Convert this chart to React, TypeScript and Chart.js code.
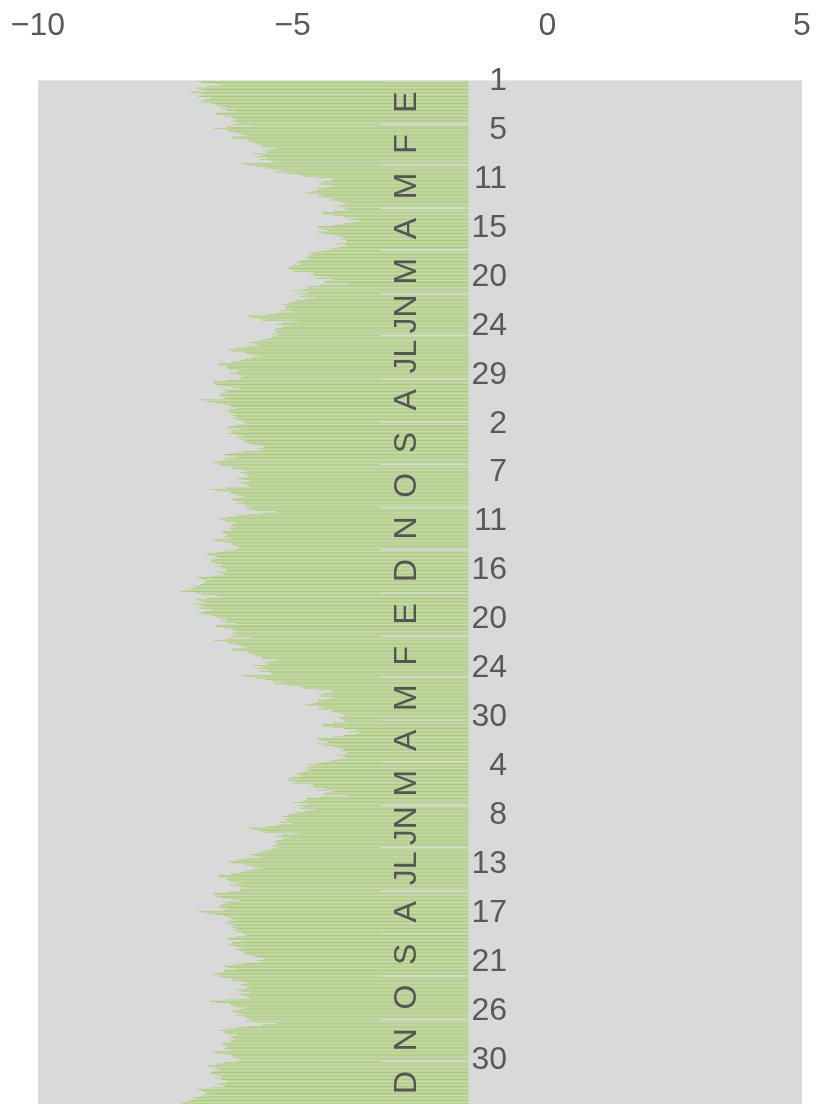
import React, { useEffect, useRef } from 'react';
import { Chart, registerables } from 'chart.js';

Chart.register(...registerables);

// Month initials (Spanish) and month lengths of the 366-day series
const MONTH_LETTERS = ['E', 'F', 'M', 'A', 'M', 'JN', 'JL', 'A', 'S', 'O', 'N', 'D'];
const MONTH_DAYS = [31, 29, 31, 30, 31, 30, 31, 31, 30, 31, 30, 31];
const YEARS = 2;
const X_TICKS = [-10, -5, 0, 5];

// Daily values, one array per month
const ENE = [-6.9, -6.8, -6.5, -6.4, -6.7, -6.9, -6.8, -6.7, -7.0, -6.8, -6.75, -6.85, -6.6, -6.7, -6.8, -6.8, -6.6, -6.5, -6.45, -6.3, -6.4, -6.3, -6.1, -6.5, -6.5, -6.35, -6.2, -6.1, -6.15, -6.2, -6.1];
const FEB = [-6.2, -5.8, -6.3, -6.55, -6.3, -6.25, -6.1, -6.0, -5.9, -6.2, -6.2, -5.9, -5.85, -5.75, -5.7, -5.6, -5.6, -5.3, -5.45, -5.55, -5.5, -5.8, -5.6, -5.7, -5.5, -5.65, -5.45, -5.4, -6.0];
const MAR = [-5.9, -5.7, -5.55, -5.4, -5.2, -5.35, -5.1, -4.85, -4.8, -4.5, -4.2, -4.25, -4.4, -4.45, -4.45, -4.2, -4.35, -4.5, -4.5, -4.6, -4.75, -4.5, -4.4, -4.5, -4.2, -4.25, -4.1, -3.97, -4.0, -4.1, -4.05];
const ABR = [-4.0, -3.95, -4.2, -4.43, -4.4, -4.2, -4.0, -3.75, -3.9, -3.68, -3.8, -4.0, -4.2, -4.5, -4.5, -4.4, -4.3, -4.52, -4.4, -4.2, -4.1, -4.0, -4.05, -3.94, -3.95, -4.14, -4.0, -3.94, -4.1, -4.25];
const MAY = [-4.35, -4.5, -4.68, -4.6, -4.7, -4.72, -4.66, -4.8, -4.89, -4.92, -4.85, -5.0, -5.08, -5.08, -4.95, -4.99, -4.6, -4.65, -4.59, -4.35, -4.53, -4.2, -4.35, -4.4, -3.95, -4.46, -4.72, -4.72, -4.8, -4.99, -4.7];
const JUN = [-4.9, -4.8, -4.86, -4.55, -4.75, -4.92, -4.99, -5.1, -5.2, -5.1, -5.15, -5.12, -5.25, -5.0, -5.28, -5.5, -5.87, -5.8, -5.64, -5.6, -4.9, -5.2, -5.3, -5.05, -5.2, -5.32, -5.35, -5.32, -5.28, -5.4];
const JUL = [-5.3, -5.4, -5.51, -5.6, -5.7, -5.84, -5.75, -5.64, -5.9, -6.1, -6.26, -6.2, -5.95, -5.9, -5.75, -5.6, -5.8, -5.95, -6.05, -6.2, -6.45, -6.45, -6.29, -6.3, -6.25, -6.03, -6.1, -6.23, -6.05, -5.97, -6.03];
const AGO = [-6.05, -6.3, -6.56, -6.56, -6.5, -6.39, -6.2, -6.05, -6.36, -6.3, -6.39, -6.45, -6.42, -6.3, -6.36, -6.85, -6.7, -6.52, -6.35, -6.25, -6.2, -6.1, -6.25, -6.3, -6.22, -6.15, -6.2, -6.1, -6.2, -6.1, -6.0];
const SEP = [-5.95, -5.9, -6.1, -6.25, -6.29, -6.0, -6.2, -6.2, -6.26, -6.1, -6.0, -6.1, -6.03, -5.95, -5.97, -5.87, -5.75, -5.6, -5.55, -5.7, -5.6, -5.97, -6.15, -6.35, -6.26, -6.1, -6.33, -6.35, -6.45, -6.56];
const OCT = [-6.45, -6.4, -6.2, -6.18, -6.0, -5.9, -6.03, -5.95, -5.85, -5.9, -6.1, -6.0, -5.85, -6.05, -5.95, -5.9, -5.84, -6.3, -6.62, -6.5, -6.23, -6.2, -6.1, -5.95, -6.05, -6.19, -6.15, -6.0, -6.1, -5.95, -5.9];
const NOV = [-5.8, -5.9, -5.75, -5.32, -5.6, -5.9, -6.1, -6.3, -6.45, -6.35, -6.29, -6.1, -6.2, -6.22, -6.15, -6.23, -6.19, -6.36, -6.39, -6.3, -6.29, -6.35, -6.2, -6.56, -6.5, -6.3, -6.19, -6.16, -6.06, -6.05];
const DIC = [-6.1, -6.35, -6.5, -6.69, -6.65, -6.5, -6.45, -6.55, -6.59, -6.62, -6.5, -6.4, -6.52, -6.4, -6.29, -6.3, -6.49, -6.4, -6.35, -6.6, -6.88, -6.8, -6.7, -6.7, -6.75, -6.8, -6.95, -6.9, -7.0, -7.1, -7.18];

const MONTHS = [ENE, FEB, MAR, ABR, MAY, JUN, JUL, AGO, SEP, OCT, NOV, DIC];

// Style constants (in data units of the value axis)
const BAR_BASE = -1.55;
const SEPARATOR_FROM = -3.28;
const LETTER_X = -2.76;
const DAY_LABEL_X = -0.79;
const DAY_TICK_STEP = 35;

const FONT_FAMILY = '"Liberation Sans", Arial, sans-serif';
const TEXT_COLOR = '#595959';
const PLOT_BG = '#d9d9d9';

const yearValues: number[] = MONTHS.flat();
const seriesValues: number[] = Array.from({ length: YEARS }, () => yearValues).flat();
const dayLabels: string[] = Array.from({ length: YEARS }, () =>
  MONTH_DAYS.flatMap((n) => Array.from({ length: n }, (_, d) => String(d + 1)))
).flat();

const plotBackground = {
  id: 'plotBackground',
  beforeDraw(chart: any) {
    const { ctx, chartArea: a } = chart;
    ctx.save();
    ctx.fillStyle = PLOT_BG;
    ctx.fillRect(a.left, a.top, a.right - a.left, a.bottom - a.top);
    ctx.restore();
  },
};

const monthBand = {
  id: 'monthBand',
  afterDatasetsDraw(chart: any) {
    const { ctx } = chart;
    const xs = chart.scales.x;
    const ys = chart.scales.y;
    const x0 = xs.getPixelForValue(SEPARATOR_FROM);
    const x1 = xs.getPixelForValue(BAR_BASE);
    const lx = xs.getPixelForValue(LETTER_X);
    ctx.save();
    let start = 0;
    for (let yr = 0; yr < YEARS; yr++) {
      for (let m = 0; m < MONTH_DAYS.length; m++) {
        const n = MONTH_DAYS[m];
        const yFirst = ys.getPixelForValue(start);
        ctx.strokeStyle = PLOT_BG;
        ctx.lineWidth = 1.4;
        ctx.beginPath();
        ctx.moveTo(x0, yFirst);
        ctx.lineTo(x1, yFirst);
        ctx.stroke();
        const yMid = (ys.getPixelForValue(start) + ys.getPixelForValue(start + n - 1)) / 2;
        ctx.save();
        ctx.translate(lx, yMid);
        ctx.rotate(-Math.PI / 2);
        ctx.fillStyle = '#555555';
        ctx.font = `32px ${FONT_FAMILY}`;
        ctx.textAlign = 'center';
        ctx.textBaseline = 'middle';
        ctx.fillText(MONTH_LETTERS[m], 0, 0);
        ctx.restore();
        start += n;
      }
    }
    ctx.restore();
  },
};

export default function App() {
  const canvasRef = useRef<HTMLCanvasElement | null>(null);

  useEffect(() => {
    const canvas = canvasRef.current;
    if (!canvas) return;
    const chart = new Chart(canvas, {
      type: 'bar',
      data: {
        labels: dayLabels,
        datasets: [
          {
            data: seriesValues.map((v) => [v, BAR_BASE]) as any,
            backgroundColor: '#a6cf6c',
            borderWidth: 0,
            barPercentage: 0.6,
            categoryPercentage: 1,
          },
        ],
      },
      options: {
        indexAxis: 'y',
        animation: false,
        responsive: false,
        devicePixelRatio: 1,
        layout: { padding: { left: 38, right: 14, top: 7, bottom: 0 } },
        plugins: {
          legend: { display: false },
          tooltip: { enabled: false },
        },
        scales: {
          x: {
            type: 'linear',
            position: 'top',
            min: X_TICKS[0],
            max: X_TICKS[X_TICKS.length - 1],
            afterBuildTicks: (scale: any) => {
              scale.ticks = X_TICKS.map((v) => ({ value: v }));
            },
            grid: {
              display: true,
              drawOnChartArea: false,
              drawTicks: true,
              tickLength: 35,
              color: 'rgba(0,0,0,0)',
            },
            border: { display: false },
            ticks: {
              padding: 0,
              color: TEXT_COLOR,
              font: { family: FONT_FAMILY, size: 32 },
              callback: (v: any) => (Number(v) < 0 ? '\u2212' + Math.abs(Number(v)) : String(v)),
            },
          },
          y: {
            type: 'category',
            position: { x: DAY_LABEL_X } as any,
            grid: { display: false, drawTicks: false },
            border: { display: false },
            afterFit: (scale: any) => {
              scale.paddingTop = 0;
              scale.paddingBottom = 0;
            },
            ticks: {
              autoSkip: false,
              padding: 0,
              color: TEXT_COLOR,
              font: { family: FONT_FAMILY, size: 32 },
              callback: (_v: any, i: number) => (i % DAY_TICK_STEP === 0 ? dayLabels[i] : ''),
            },
          },
        },
      },
      plugins: [plotBackground, monthBand],
    });
    return () => chart.destroy();
  }, []);

  return (
    <div style={{ position: 'absolute', left: 0, top: 0, width: 816, height: 1104 }}>
      <canvas ref={canvasRef} width={816} height={1104} style={{ display: 'block' }} />
    </div>
  );
}
